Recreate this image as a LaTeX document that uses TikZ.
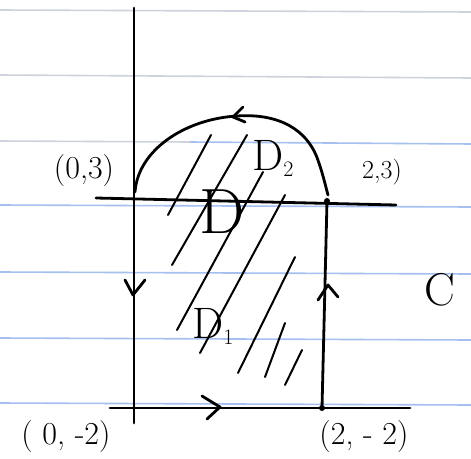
\documentclass[tikz,border=0pt]{standalone}
\begin{document}
\definecolor{rulegray}{RGB}{205,210,220}
\definecolor{ruleblue}{RGB}{165,192,240}
\tikzset{
  ink/.style={line width=2.8pt, line cap=round, line join=round, black},
  hatch/.style={line width=2pt, line cap=round, black},
  rulestyle/.style={line width=1.6pt},
  lbl/.style={font=\fontsize{32}{34}\selectfont, inner sep=0pt},
  dot/.style={circle, fill=black, inner sep=0pt, minimum size=6pt}
}
\begin{tikzpicture}[x=1pt,y=-1pt]
\fill[white] (0,0) rectangle (471,458);
\useasboundingbox (0,0) rectangle (471,458);
% ruled paper
\draw[rulestyle,rulegray] (0,10) -- (471,12);
\draw[rulestyle,rulegray] (0,75) -- (471,78);
\draw[rulestyle,rulegray] (0,141) -- (190,142);
\draw[rulestyle,ruleblue] (190,142) -- (471,144);
\draw[rulestyle,ruleblue] (0,205) -- (471,207);
\draw[rulestyle,ruleblue] (0,272) -- (471,274);
\draw[rulestyle,ruleblue] (0,338) -- (471,340);
\draw[rulestyle,ruleblue] (0,403) -- (471,405);
% corner points
\node[dot] (B) at (327,201) {};
\node[dot] (Q) at (322,408) {};
\coordinate (ytop) at (134,8);
\coordinate (ybot) at (134,423);
\coordinate (hl) at (96,198);
\coordinate (hr) at (396,205);
\coordinate (bl) at (110,408);
\coordinate (br) at (410,408);
\coordinate (as) at (135,192);
\coordinate (am) at (237,116);
\coordinate (ae) at (328,195);
% axes and boundary
\draw[ink] (ytop) -- (ybot);
\draw[ink] (hl) -- (hr);
\draw[ink] (bl) -- (br);
\draw[ink] (B.center) -- (Q.center);
\draw[ink] (as) .. controls (138,150) and (185,119) .. (am)
  .. controls (282,113) and (306,132) .. (316,155)
  .. controls (322,170) and (325,184) .. (ae);
% direction chevrons
\draw[ink] (243,107) -- (233,117) -- (245,122);
\draw[ink] (125,280) -- (133,295) -- (145,280);
\draw[ink] (318,300) -- (328,285) -- (338,297);
\draw[ink] (202,396) -- (220,407) -- (207,419);
% hatching
\draw[hatch] (211,135) -- (168,215);
\draw[hatch] (247,135) -- (172,265);
\draw[hatch] (263,172) -- (177,330);
\draw[hatch] (285,195) -- (200,353);
\draw[hatch] (295,257) -- (238,373);
\draw[hatch] (285,323) -- (265,377);
\draw[hatch] (302,350) -- (285,385);
% labels
\node[lbl] (l03) at (84,171) {(0,3)};
\node[lbl, font=\fontsize{26}{28}\selectfont] (l23) at (382,172) {2,3)};
\node[lbl] (l0m2) at (66,437) {( 0, -2)};
\node[lbl] (l2m2) at (364,437) {(2, - 2)};
\node[lbl, font=\fontsize{46}{48}\selectfont] (lC) at (440,290) {C};
\node[lbl, font=\fontsize{64}{66}\selectfont] (lD) at (222,212) {D};
\node[lbl, font=\fontsize{44}{46}\selectfont, anchor=base west] (lD2) at (252,170) {D\raisebox{-0.15em}{\fontsize{22}{22}\selectfont 2}};
\node[lbl, font=\fontsize{44}{46}\selectfont, anchor=base west] (lD1) at (192,338) {D\raisebox{-0.15em}{\fontsize{22}{22}\selectfont 1}};
\end{tikzpicture}
\end{document}
